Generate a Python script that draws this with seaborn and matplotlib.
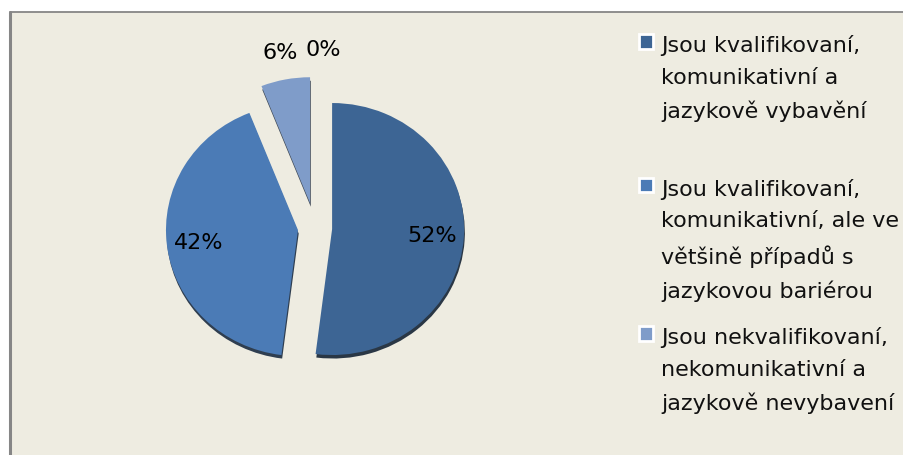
import numpy as np
import matplotlib.pyplot as plt
import seaborn as sns
from matplotlib.patches import Patch, Rectangle
from matplotlib.lines import Line2D

# data
shares = [52, 42, 6, 0]
labels = ['Jsou kvalifikovaní,\nkomunikativní a\njazykově vybavění\n',
          'Jsou kvalifikovaní,\nkomunikativní, ale ve\nvětšině případů s\njazykovou bariérou',
          'Jsou nekvalifikovaní,\nnekomunikativní a\njazykově nevybavení']
explode = [0.13, 0.13, 0.2, 0.2]
colors = sns.color_palette(['#3d6594', '#4b7bb6', '#7f9cc9', '#a9bcdb'])

sns.set_theme(style='white')
plt.rcParams['font.family'] = ['DejaVu Sans']

W, H = 904, 456
fig = plt.figure(figsize=(W / 100, H / 100), dpi=100)
fig.patch.set_facecolor('white')
# beige chart area, grey frame only on top and left (rest is cut off)
fig.add_artist(Rectangle((10 / W, 0), 1, 1 - 13 / H, transform=fig.transFigure,
                         facecolor='#eeece1', edgecolor='none', zorder=-2))
fig.add_artist(Line2D([10 / W, 1], [1 - 13 / H, 1 - 13 / H], transform=fig.transFigure,
                      color='#868686', lw=1.3, zorder=-1))
fig.add_artist(Line2D([10 / W, 10 / W], [0, 1 - 13 / H], transform=fig.transFigure,
                      color='#868686', lw=2.2, zorder=-1))

# pie centre ~ (315, 229) px, slightly wider than tall like the reference
ax = fig.add_axes([(315 - 180) / W, (H - 229 - 180) / H, 360 / W, 360 / H])
wedges, texts, autotexts = ax.pie(
    shares, colors=colors, explode=explode, startangle=90, counterclock=False,
    autopct='%1.0f%%', pctdistance=0.76,
    wedgeprops={'linewidth': 0},
    shadow={'ox': 0.004, 'oy': -0.02, 'shade': 0.65, 'alpha': 0.9},
    textprops=dict(fontsize=16, color='black'))
ax.set_aspect('auto')
ax.set_xlim(-180 / 132, 180 / 132)
ax.set_ylim(-180 / 126, 180 / 126)
ax.axis('off')

# small slices get their labels outside, above the pie
for i, (w, t) in enumerate(zip(wedges, autotexts)):
    if shares[i] < 10:
        ang = np.deg2rad((w.theta1 + w.theta2) / 2)
        r = explode[i] + 1.22
        t.set_position((r * np.cos(ang), r * np.sin(ang)))
        if shares[i] == 0:
            t.set_ha('left')
            t.set_x(-0.07)

handles = [Patch(facecolor=c, edgecolor='white', linewidth=2) for c in colors[:3]]
leg = fig.legend(handles, labels, loc='upper left', bbox_to_anchor=(639 / W, 1 - 35 / H),
                 frameon=False, fontsize=16, handlelength=0.65, handleheight=0.65,
                 handletextpad=0.36, labelspacing=1.1, borderpad=0, borderaxespad=0)
for t in leg.get_texts():
    t.set_linespacing(1.74)
    t.set_color('#111111')
# marker next to the first line of each entry
for col in leg._legend_handle_box.get_children():
    for item in col.get_children():
        item.align = 'top'

fig.savefig('out.png', dpi=100, facecolor=fig.get_facecolor())
